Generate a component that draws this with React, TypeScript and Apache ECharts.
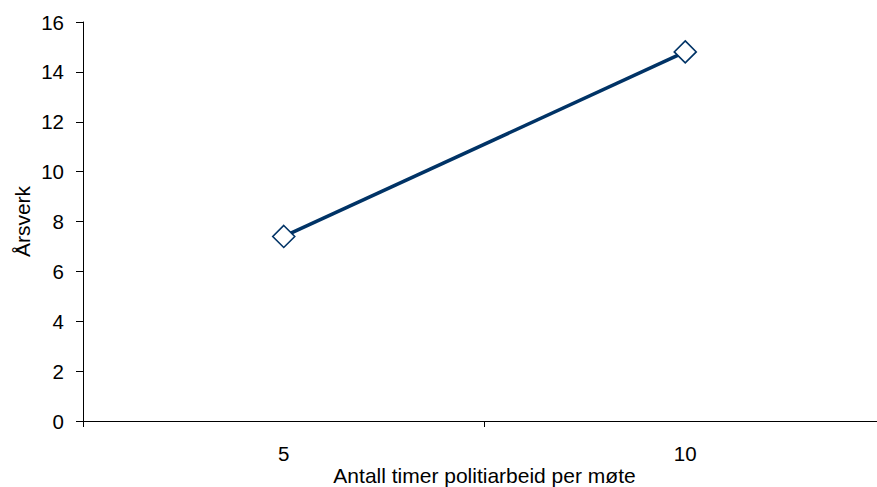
import React, { useEffect, useRef } from "react";
import * as echarts from "echarts";

// Timer politiarbeid per møte og tilhørende årsverk
const categories = ["5", "10"];
const arsverk = [7.4, 14.8];
const yMin = 0;
const yMax = 16;
const yStep = 2;

export default function App() {
  const ref = useRef<HTMLDivElement>(null);

  useEffect(() => {
    if (!ref.current) return;
    const chart = echarts.init(ref.current, null, { renderer: "svg" });
    const font = "Liberation Sans, Arial, sans-serif";
    chart.setOption({
      animation: false,
      backgroundColor: "#ffffff",
      grid: {
        left: 83,
        right: -9,
        top: 22,
        bottom: 66,
        containLabel: false,
        outerBoundsMode: "none",
      },
      xAxis: {
        type: "category",
        data: categories,
        boundaryGap: true,
        name: "Antall timer politiarbeid per møte",
        nameLocation: "middle",
        nameGap: 44,
        nameMoveOverlap: false,
        nameTextStyle: { color: "#000", fontSize: 21, fontFamily: font },
        axisLine: { lineStyle: { color: "#000", width: 1 } },
        axisTick: { show: true, length: 6, inside: false, lineStyle: { color: "#000" } },
        axisLabel: { color: "#000", fontSize: 20.5, fontFamily: font, margin: 22 },
        splitLine: { show: false },
      },
      yAxis: {
        type: "value",
        min: yMin,
        max: yMax,
        interval: yStep,
        name: "Årsverk",
        nameLocation: "middle",
        nameGap: 50,
        nameMoveOverlap: false,
        nameRotate: 90,
        nameTextStyle: { color: "#000", fontSize: 21, fontFamily: font },
        axisLine: { show: true, lineStyle: { color: "#000", width: 1 } },
        axisTick: { show: true, length: 7, inside: false, lineStyle: { color: "#000" } },
        axisLabel: { color: "#000", fontSize: 20.5, fontFamily: font, margin: 19 },
        splitLine: { show: false },
      },
      series: [
        {
          type: "line",
          data: arsverk,
          symbol: "diamond",
          symbolSize: 22,
          showSymbol: true,
          lineStyle: { color: "#003366", width: 3.5 },
          itemStyle: { color: "#ffffff", borderColor: "#003366", borderWidth: 1.6 },
        },
      ],
    });
    return () => chart.dispose();
  }, []);

  return <div ref={ref} style={{ width: 877, height: 487, position: "absolute", left: 0, top: 0 }} />;
}
